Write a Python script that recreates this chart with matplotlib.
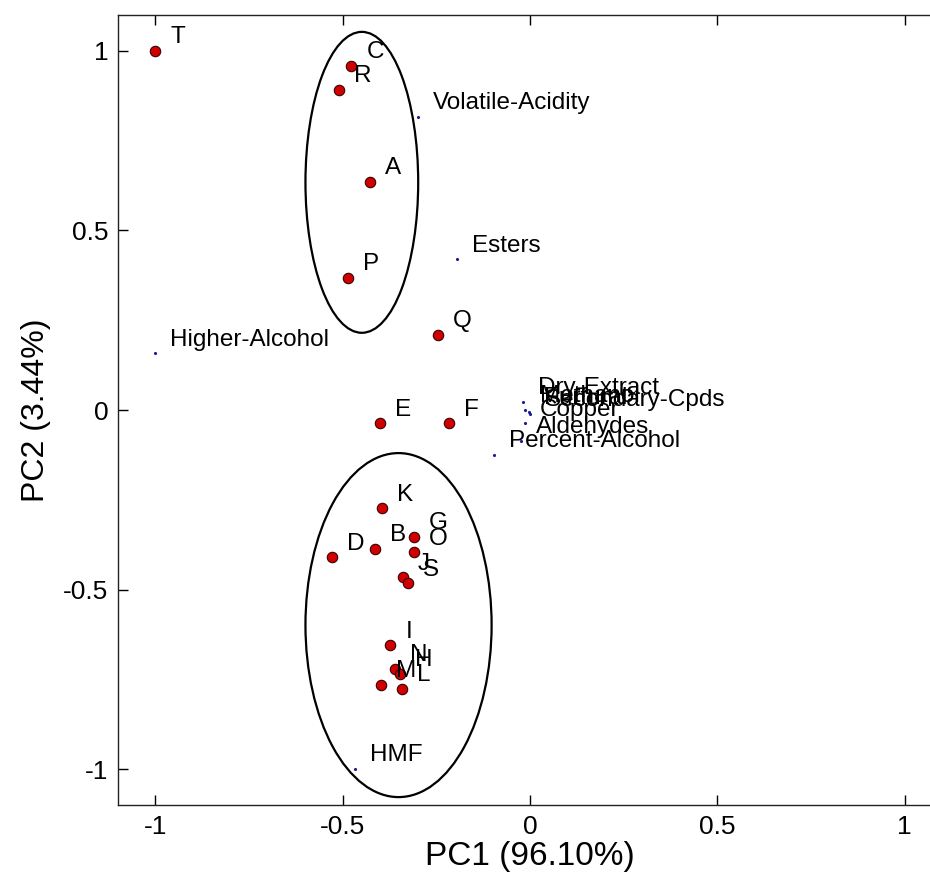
"""
PCA biplot: muestras (puntos rojos) y variables (puntos azules).
Genera out.png
"""
import matplotlib
matplotlib.use("Agg")
import matplotlib.pyplot as plt
import matplotlib.patches as mpatches

plt.rcParams["font.family"] = ["Liberation Sans", "DejaVu Sans"]
plt.rcParams["axes.unicode_minus"] = False

# ── Datos ─────────────────────────────────────────────────────────────────────
sample_names = ["T", "C", "R", "A", "P", "Q", "E", "F", "K", "D", "B", "G",
                "O", "J", "S", "I", "N", "H", "M", "L"]
sample_pc1 = [-1.000, -0.477, -0.509, -0.427, -0.485, -0.246, -0.400, -0.215,
              -0.395, -0.529, -0.413, -0.309, -0.311, -0.339, -0.327, -0.373,
              -0.360, -0.347, -0.398, -0.342]
sample_pc2 = [1.000, 0.958, 0.891, 0.635, 0.368, 0.209, -0.037, -0.037,
              -0.274, -0.410, -0.387, -0.353, -0.396, -0.466, -0.483, -0.655,
              -0.721, -0.734, -0.766, -0.777]

var_names = ["Volatile-Acidity", "Esters", "Higher-Alcohol", "HMF",
             "Dry-Extract", "Methanol", "Furfural", "Secondary-Cpds",
             "Copper", "Aldehydes", "Percent-Alcohol"]
var_pc1 = [-0.298, -0.194, -1.000, -0.467, -0.018, -0.013, -0.002, 0.000,
           -0.013, -0.024, -0.097]
var_pc2 = [0.817, 0.420, 0.158, -1.000, 0.022, 0.000, -0.005, -0.011,
           -0.037, -0.086, -0.124]

# Elipses de agrupamiento: (centro x, centro y, ancho, alto)
ELLIPSES = [(-0.449, 0.634, 0.301, 0.838),
            (-0.351, -0.599, 0.497, 0.958)]

DOT_RED = "#d10000"
DOT_EDGE = "#3a0000"
VAR_BLUE = "#1a1a9e"
LABEL_DX, LABEL_DY = 0.04, 0.038

# ── Figura ────────────────────────────────────────────────────────────────────
fig = plt.figure(figsize=(9.3, 8.84), dpi=100)
ax = fig.add_axes([118 / 930, 79 / 884, 824 / 930, 790 / 884])

for cx, cy, w, h in ELLIPSES:
    ax.add_patch(mpatches.Ellipse((cx, cy), w, h, fill=False,
                                  edgecolor="black", linewidth=1.6, zorder=1))

ax.plot(var_pc1, var_pc2, linestyle="none", marker=".", markersize=2.5,
        color=VAR_BLUE, zorder=2)
for name, x, y in zip(var_names, var_pc1, var_pc2):
    ax.text(x + LABEL_DX, y + LABEL_DY, name, ha="left", va="center",
            fontsize=17.5, color="black", zorder=4)

ax.plot(sample_pc1, sample_pc2, linestyle="none", marker="o", markersize=7.5,
        markerfacecolor=DOT_RED, markeredgecolor=DOT_EDGE,
        markeredgewidth=0.8, zorder=3)
for name, x, y in zip(sample_names, sample_pc1, sample_pc2):
    ax.text(x + LABEL_DX, y + LABEL_DY, name, ha="left", va="center",
            fontsize=17.5, color="black", zorder=4)

ax.set_xlim(-1.1, 1.1)
ax.set_ylim(-1.1, 1.1)
ticks = [-1, -0.5, 0, 0.5, 1]
tick_labels = ["-1", "-0.5", "0", "0.5", "1"]
ax.set_xticks(ticks)
ax.set_xticklabels(tick_labels)
ax.set_yticks(ticks)
ax.set_yticklabels(tick_labels)
ax.tick_params(direction="in", length=7, width=1, labelsize=19,
               top=True, right=True, pad=7)

ax.set_xlabel("PC1 (96.10%)", fontsize=24, labelpad=2)
ax.set_ylabel("PC2 (3.44%)", fontsize=23, labelpad=9)
for spine in ax.spines.values():
    spine.set_linewidth(1)
    spine.set_edgecolor("#222222")

fig.savefig("out.png", dpi=100)
